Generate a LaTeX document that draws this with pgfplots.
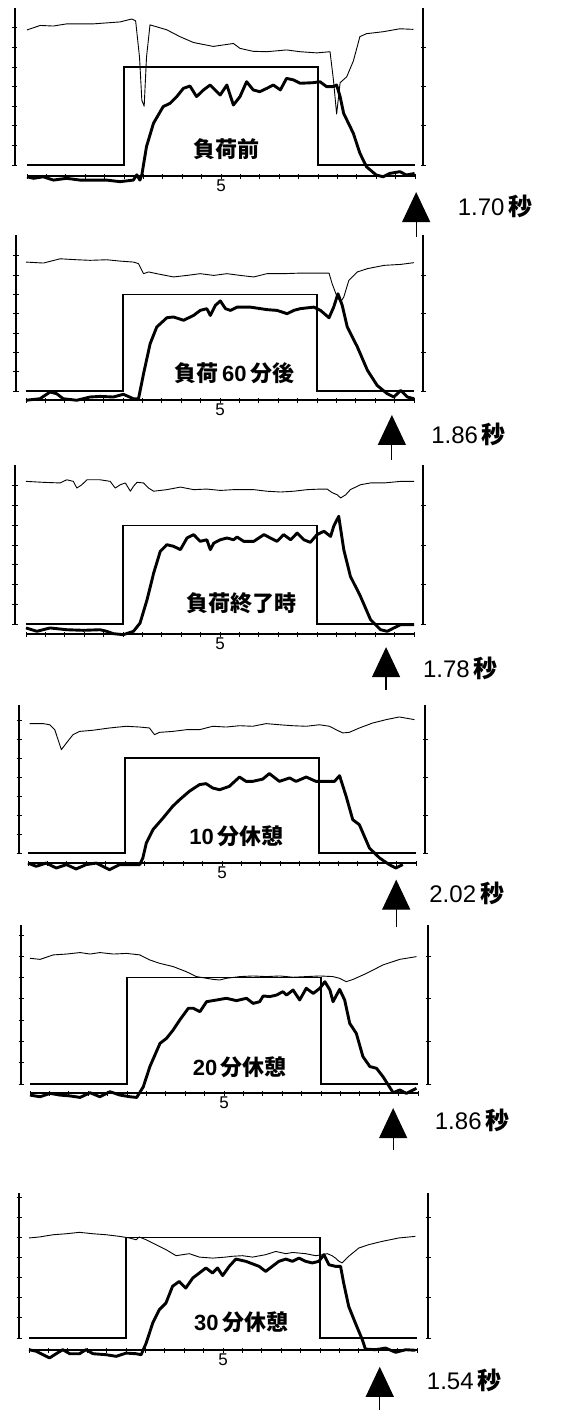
\documentclass[border=0pt]{standalone}
\usepackage{fontspec}
\setmainfont{Liberation Sans}
\newfontfamily\cjk{Noto Sans CJK JP}
\usepackage{pgfplots}
\pgfplotsset{compat=1.18}
\usetikzlibrary{arrows.meta}

\pgfplotsset{
  panelbase/.style={x=38.8pt, xmin=0, xmax=10, ymin=0, anchor=south west,
    clip=false, enlargelimits=false, tick align=inside,
    /pgf/number format/assume math mode=true,
    tick style={black, line width=0.9pt}, major tick length=5pt},
  mainax/.style={panelbase, axis x line=bottom, axis y line=left,
    x axis line style={-, line width=1.7pt}, y axis line style={-, line width=1.5pt},
    xtick={0,0.5,...,10},
    xticklabels={,,,,,,,,,,5,,,,,,,,,,},
    xticklabel style={font=\fontsize{17}{17}\selectfont, inner sep=1pt},
    ytick={0,1,...,7}, yticklabels={}},
  rightax/.style={panelbase, axis x line=none, axis y line=right,
    y axis line style={-, line width=1.5pt}, ytick={0,2,4,6}, yticklabels={}},
}
\tikzset{
  stepl/.style={line width=1.4pt, black},
  thintr/.style={line width=0.9pt, black, line join=round},
  thicktr/.style={line width=2.9pt, black, line join=round},
  arr/.style={line width=1.2pt, -{Triangle[width=28pt,length=30pt]}},
  sidelab/.style={anchor=base west, inner sep=0pt, font=\fontsize{24}{24}\selectfont},
  plab/.style={inner sep=0pt, font=\fontsize{22}{22}\selectfont\bfseries},
}

\begin{document}
\begin{tikzpicture}
\useasboundingbox (0pt,0pt) rectangle (565pt,-1410pt);

% ---------------- Panel 1 ----------------
\begin{axis}[mainax, y=19.6pt, ymax=8.0, at={(27pt,-165pt)},
  axis x line shift=11pt, axis y line shift=12pt]
\addplot[stepl] coordinates {(0,0)(2.5,0)(2.5,5)(7.5,5)(7.5,0)(10,0)};
\addplot[thintr] coordinates {(0,6.89)(0.34,7.12)(0.68,7.09)(1.02,7.2)(1.37,7.2)(1.71,7.2)(2.05,7.25)(2.4,7.3)(2.7,7.45)(2.8,7.35)(2.9,5.5)(2.96,3.3)(3.02,3.0)(3.08,5.5)(3.17,7.15)(3.6,6.9)(3.94,6.55)(4.29,6.25)(4.8,6.05)(5.32,6.2)(5.49,5.95)(5.83,5.8)(6.18,5.78)(6.69,5.87)(7.04,5.78)(7.47,5.72)(7.81,5.78)(7.9,4.3)(7.98,2.6)(8.07,4.2)(8.24,4.5)(8.41,5.3)(8.58,6.55)(8.75,6.7)(9.18,6.8)(9.61,6.95)(9.96,6.92)};
\addplot[thicktr] coordinates {(0,-0.6)(0.17,-0.68)(0.42,-0.6)(0.68,-0.77)(1.02,-0.68)(1.37,-0.77)(1.71,-0.77)(2.05,-0.77)(2.4,-0.85)(2.74,-0.77)(2.83,-0.5)(2.91,-0.77)(2.96,-0.5)(3.08,0.94)(3.26,2.13)(3.51,2.98)(3.69,3.15)(3.86,3.49)(4.03,3.91)(4.2,4.03)(4.37,3.49)(4.55,3.83)(4.72,4.08)(4.98,3.57)(5.15,4.08)(5.32,3.06)(5.49,3.49)(5.66,4.25)(5.83,3.83)(6.0,3.74)(6.18,3.91)(6.35,4.08)(6.53,3.83)(6.69,4.42)(6.87,4.34)(7.04,4.17)(7.38,4.2)(7.55,4.25)(7.72,4.0)(7.9,4.0)(7.98,4.08)(8.07,3.49)(8.16,2.64)(8.41,1.62)(8.58,0.6)(8.75,-0.09)(9.0,-0.51)(9.18,-0.6)(9.35,-0.43)(9.61,-0.34)(9.78,-0.51)(9.99,-0.43)};
\node[plab] at (axis cs:5.15,0.82) {\cjk 負荷前};
\draw[arr] (axis cs:10.03,-3.67) -- (axis cs:10.03,-1.38);
\node[sidelab] at (axis cs:11.1,-2.6) {1.70\,{\cjk\bfseries 秒}};
\end{axis}
\begin{axis}[rightax, y=19.6pt, ymax=8.0, at={(27pt,-165pt)}, axis y line shift=8pt]
\end{axis}

% ---------------- Panel 2 ----------------
\begin{axis}[mainax, y=19.33pt, ymax=8.07, at={(26pt,-391pt)},
  axis x line shift=9pt, axis y line shift=10pt]
\addplot[stepl] coordinates {(0,0)(2.5,0)(2.5,5)(7.5,5)(7.5,0)(10,0)};
\addplot[thintr] coordinates {(0,6.67)(0.45,6.62)(0.88,6.84)(1.31,6.79)(1.65,6.76)(2.08,6.79)(2.43,6.72)(2.77,6.67)(2.9,6.59)(3.03,6.07)(3.16,6.16)(3.37,6.07)(3.8,5.9)(4.15,5.98)(4.49,6.07)(4.84,5.98)(5.18,6.07)(5.52,5.98)(5.87,5.9)(6.21,6.07)(6.64,6.07)(7.07,6.1)(7.5,6.1)(7.81,6.1)(7.89,5.55)(8.02,4.86)(8.11,4.6)(8.19,4.86)(8.32,5.72)(8.54,6.16)(8.8,6.33)(9.23,6.5)(9.66,6.55)(10,6.64)};
\addplot[thicktr] coordinates {(0,-0.48)(0.36,-0.4)(0.62,-0.05)(0.79,-0.14)(0.96,-0.4)(1.31,-0.48)(1.65,-0.31)(1.91,-0.28)(2.25,-0.31)(2.51,-0.17)(2.77,-0.4)(2.9,-0.4)(3.03,0.9)(3.2,2.45)(3.37,3.31)(3.63,3.79)(3.8,3.83)(4.06,3.66)(4.32,3.91)(4.49,4.17)(4.66,4.26)(4.75,3.91)(4.88,4.43)(5.01,4.66)(5.14,4.26)(5.27,4.17)(5.44,4.34)(5.78,4.34)(6.21,4.21)(6.47,4.17)(6.73,4.0)(6.9,4.17)(7.07,4.26)(7.42,4.34)(7.59,4.17)(7.81,3.79)(7.93,4.34)(8.04,5.03)(8.15,4.43)(8.28,3.31)(8.54,2.28)(8.8,1.07)(9.05,0.29)(9.31,-0.14)(9.48,-0.31)(9.66,0.03)(9.83,-0.31)(10,-0.4)};
\node[plab] at (axis cs:5.37,0.93) {{\cjk 負荷}\,60\,{\cjk 分後}};
\draw[arr] (axis cs:9.43,-3.57) -- (axis cs:9.43,-1.24);
\node[sidelab] at (axis cs:10.44,-2.69) {1.86\,{\cjk\bfseries 秒}};
\end{axis}
\begin{axis}[rightax, y=19.33pt, ymax=8.07, at={(26pt,-391pt)}, axis y line shift=9pt]
\end{axis}

% ---------------- Panel 3 ----------------
\begin{axis}[mainax, y=19.73pt, ymax=8.06, at={(26pt,-624pt)},
  axis x line shift=10pt, axis y line shift=11pt]
\addplot[stepl] coordinates {(0,0)(2.5,0)(2.5,5)(7.5,5)(7.5,0)(10,0)};
\addplot[thintr] coordinates {(0,7.23)(0.45,7.18)(0.88,7.15)(1.05,7.31)(1.22,7.23)(1.31,6.89)(1.44,7.06)(1.57,7.31)(1.91,7.31)(2.17,7.23)(2.3,6.89)(2.43,7.06)(2.56,7.15)(2.69,6.73)(2.77,6.98)(2.86,7.18)(3.03,7.15)(3.16,6.89)(3.29,6.73)(3.63,6.81)(3.98,6.94)(4.32,6.81)(4.66,6.84)(5.01,6.77)(5.35,6.81)(5.87,6.81)(6.21,6.73)(6.56,6.69)(6.9,6.73)(7.25,6.81)(7.59,6.84)(7.76,6.84)(7.89,6.66)(8.02,6.55)(8.11,6.39)(8.24,6.55)(8.36,6.81)(8.62,7.06)(8.88,7.15)(9.23,7.15)(9.66,7.23)(10,7.23)};
\addplot[thicktr] coordinates {(0,-0.2)(0.28,-0.37)(0.62,-0.2)(1.05,-0.29)(1.48,-0.32)(1.91,-0.29)(2.08,-0.37)(2.25,-0.49)(2.51,-0.54)(2.77,-0.37)(2.94,0.05)(3.12,1.23)(3.29,2.58)(3.46,3.68)(3.63,4.02)(3.8,3.94)(3.98,3.77)(4.15,4.36)(4.32,4.53)(4.49,4.19)(4.66,4.27)(4.75,3.77)(4.84,4.1)(5.01,4.27)(5.18,4.36)(5.35,4.27)(5.44,4.41)(5.61,4.19)(5.87,4.19)(6.13,4.53)(6.3,4.36)(6.47,4.19)(6.64,4.53)(6.82,4.27)(6.99,4.61)(7.16,4.27)(7.33,4.14)(7.5,4.53)(7.68,4.7)(7.85,4.44)(7.93,4.95)(8.06,5.46)(8.19,3.77)(8.36,2.42)(8.62,1.4)(8.88,0.22)(9.14,-0.29)(9.31,-0.37)(9.48,-0.2)(9.66,-0.03)(10,-0.03)};
\node[plab] at (axis cs:5.55,1.06) {\cjk 負荷終了時};
\draw[arr] (axis cs:9.28,-3.35) -- (axis cs:9.28,-1.17);
\node[sidelab] at (axis cs:10.23,-2.69) {1.78\,{\cjk\bfseries 秒}};
\end{axis}
\begin{axis}[rightax, y=19.73pt, ymax=8.06, at={(26pt,-624pt)}, axis y line shift=9pt]
\end{axis}

% ---------------- Panel 4 ----------------
\begin{axis}[mainax, y=19.0pt, ymax=7.8, at={(28pt,-853pt)},
  axis x line shift=10pt, axis y line shift=9pt]
\addplot[stepl] coordinates {(0,0)(2.5,0)(2.5,5)(7.5,5)(7.5,0)(10,0)};
\addplot[thintr] coordinates {(0.04,6.81)(0.39,6.81)(0.56,6.75)(0.69,6.49)(0.86,5.44)(0.99,5.79)(1.16,6.23)(1.33,6.4)(1.67,6.46)(2.1,6.58)(2.53,6.67)(2.88,6.63)(3.13,6.58)(3.26,6.23)(3.39,6.35)(3.73,6.4)(4.08,6.49)(4.42,6.49)(4.76,6.67)(5.11,6.63)(5.45,6.7)(5.79,6.67)(6.14,6.81)(6.48,6.75)(6.82,6.7)(7.17,6.67)(7.51,6.75)(7.77,6.67)(7.94,6.49)(8.11,6.32)(8.28,6.35)(8.54,6.58)(8.88,6.84)(9.23,7.02)(9.57,7.16)(9.96,7.02)};
\addplot[thicktr] coordinates {(0,-0.53)(0.21,-0.7)(0.47,-0.53)(0.73,-0.79)(0.99,-0.61)(1.24,-0.84)(1.5,-0.61)(1.76,-0.53)(2.1,-0.88)(2.36,-0.61)(2.7,-0.61)(2.88,-0.61)(2.96,-0.26)(3.05,0.53)(3.22,1.23)(3.48,1.84)(3.73,2.46)(3.91,2.81)(4.16,3.25)(4.42,3.6)(4.59,3.65)(4.76,3.42)(4.94,3.33)(5.19,3.51)(5.45,4.0)(5.62,3.77)(5.79,3.77)(6.05,3.89)(6.22,4.18)(6.48,3.77)(6.74,3.95)(6.91,3.77)(7.17,4.0)(7.42,3.77)(7.77,3.77)(7.9,3.77)(8.03,4.07)(8.2,2.98)(8.37,1.75)(8.54,1.49)(8.8,0.26)(9.06,-0.26)(9.31,-0.61)(9.48,-0.79)(9.66,-0.61)};
\node[plab] at (axis cs:5.37,0.89) {10\,{\cjk 分休憩}};
\draw[arr] (axis cs:9.49,-3.88) -- (axis cs:9.49,-1.4);
\node[sidelab] at (axis cs:10.34,-2.62) {2.02\,{\cjk\bfseries 秒}};
\end{axis}
\begin{axis}[rightax, y=19.0pt, ymax=7.8, at={(28pt,-853pt)}, axis y line shift=9pt]
\end{axis}

% ---------------- Panel 5 ----------------
\begin{axis}[mainax, y=21.27pt, ymax=7.47, at={(30pt,-1084pt)},
  axis x line shift=9pt, axis y line shift=9pt]
\addplot[stepl] coordinates {(0,0)(2.5,0)(2.5,5)(7.5,5)(7.5,0)(10,0)};
\addplot[thintr] coordinates {(0,5.91)(0.26,5.86)(0.6,6.07)(0.94,6.11)(1.29,6.18)(1.55,6.11)(1.8,6.18)(2.15,6.11)(2.49,6.14)(2.83,6.07)(3.09,5.83)(3.35,5.67)(3.69,5.52)(4.03,5.28)(4.29,5.05)(4.55,4.97)(4.72,4.92)(4.89,4.89)(5.06,4.97)(5.41,5.05)(5.75,5.08)(6.09,5.05)(6.44,5.08)(6.78,5.02)(7.12,5.05)(7.47,5.08)(7.81,5.05)(7.98,4.97)(8.15,4.81)(8.33,4.92)(8.67,5.2)(9.1,5.6)(9.53,5.86)(9.96,5.99)};
\addplot[thicktr] coordinates {(0,-0.52)(0.26,-0.6)(0.52,-0.44)(0.77,-0.52)(1.03,-0.56)(1.29,-0.63)(1.55,-0.41)(1.8,-0.6)(2.06,-0.36)(2.32,-0.52)(2.58,-0.6)(2.75,-0.63)(2.92,-0.13)(3.09,0.82)(3.35,1.91)(3.52,2.15)(3.69,2.54)(3.86,3.01)(4.08,3.56)(4.21,3.56)(4.38,3.4)(4.55,3.87)(4.81,3.95)(5.06,4.03)(5.32,3.92)(5.58,4.03)(5.75,3.79)(5.92,3.87)(6.01,4.14)(6.18,4.11)(6.35,4.18)(6.52,4.34)(6.61,4.18)(6.78,4.42)(6.95,3.95)(7.12,4.5)(7.3,4.26)(7.47,4.5)(7.6,4.81)(7.73,4.42)(7.81,3.87)(7.98,4.45)(8.11,3.95)(8.24,2.85)(8.41,2.38)(8.58,1.29)(8.76,0.82)(8.93,0.74)(9.1,0.34)(9.36,-0.41)(9.53,-0.28)(9.7,-0.44)(9.96,-0.2)};
\node[plab] at (axis cs:5.41,0.8) {20\,{\cjk 分休憩}};
\draw[arr] (axis cs:9.36,-3.1) -- (axis cs:9.36,-1.13);
\node[sidelab] at (axis cs:10.43,-2.16) {1.86\,{\cjk\bfseries 秒}};
\end{axis}
\begin{axis}[rightax, y=21.27pt, ymax=7.47, at={(30pt,-1084pt)}, axis y line shift=10pt]
\end{axis}

% ---------------- Panel 6 ----------------
\begin{axis}[mainax, y=20.13pt, ymax=7.2, at={(29pt,-1338pt)},
  axis x line shift=12pt, axis y line shift=10pt]
\addplot[stepl] coordinates {(0,0)(2.5,0)(2.5,5)(7.5,5)(7.5,0)(10,0)};
\addplot[thintr] coordinates {(0,4.97)(0.27,5.02)(0.62,5.13)(0.96,5.18)(1.3,5.25)(1.65,5.18)(1.99,5.13)(2.33,5.05)(2.59,4.97)(2.76,4.88)(2.84,5.02)(3.02,4.88)(3.27,4.64)(3.53,4.39)(3.79,4.09)(4.13,4.19)(4.39,4.02)(4.73,3.97)(5.07,4.02)(5.24,4.06)(5.5,4.09)(5.76,4.02)(6.1,4.14)(6.36,4.3)(6.62,4.19)(6.79,4.25)(7.13,4.19)(7.39,4.09)(7.56,4.14)(7.69,4.19)(7.81,4.09)(7.9,3.97)(7.99,3.81)(8.07,3.73)(8.24,4.06)(8.5,4.47)(8.76,4.64)(9.1,4.8)(9.53,4.97)(9.96,5.05)};
\addplot[thicktr] coordinates {(0,-0.58)(0.19,-0.66)(0.36,-0.83)(0.53,-0.99)(0.7,-0.78)(0.87,-0.58)(1.05,-0.78)(1.3,-0.78)(1.47,-0.58)(1.65,-0.78)(1.99,-0.83)(2.25,-0.91)(2.5,-0.75)(2.76,-0.78)(2.89,-0.83)(3.02,-0.25)(3.19,0.75)(3.36,1.41)(3.53,1.74)(3.7,2.57)(3.87,2.81)(4.04,2.48)(4.22,2.98)(4.39,3.23)(4.56,3.48)(4.73,3.23)(4.86,3.48)(4.99,3.1)(5.16,3.56)(5.33,3.92)(5.59,3.81)(5.93,3.56)(6.1,3.31)(6.27,3.56)(6.44,3.81)(6.62,3.92)(6.79,3.81)(6.96,3.97)(7.13,3.81)(7.3,3.73)(7.47,3.81)(7.6,4.14)(7.73,3.64)(7.9,3.56)(8.03,3.56)(8.11,2.73)(8.24,1.57)(8.41,0.75)(8.59,-0.08)(8.67,-0.55)(8.93,-0.58)(9.19,-0.5)(9.45,-0.71)(9.71,-0.58)(9.96,-0.61)};
\node[plab] at (axis cs:5.47,0.8) {30\,{\cjk 分休憩}};
\draw[arr] (axis cs:9.04,-3.56) -- (axis cs:9.04,-1.43);
\node[sidelab] at (axis cs:10.25,-2.57) {1.54\,{\cjk\bfseries 秒}};
\end{axis}
\begin{axis}[rightax, y=20.13pt, ymax=7.2, at={(29pt,-1338pt)}, axis y line shift=11pt]
\end{axis}
\end{tikzpicture}
\end{document}
